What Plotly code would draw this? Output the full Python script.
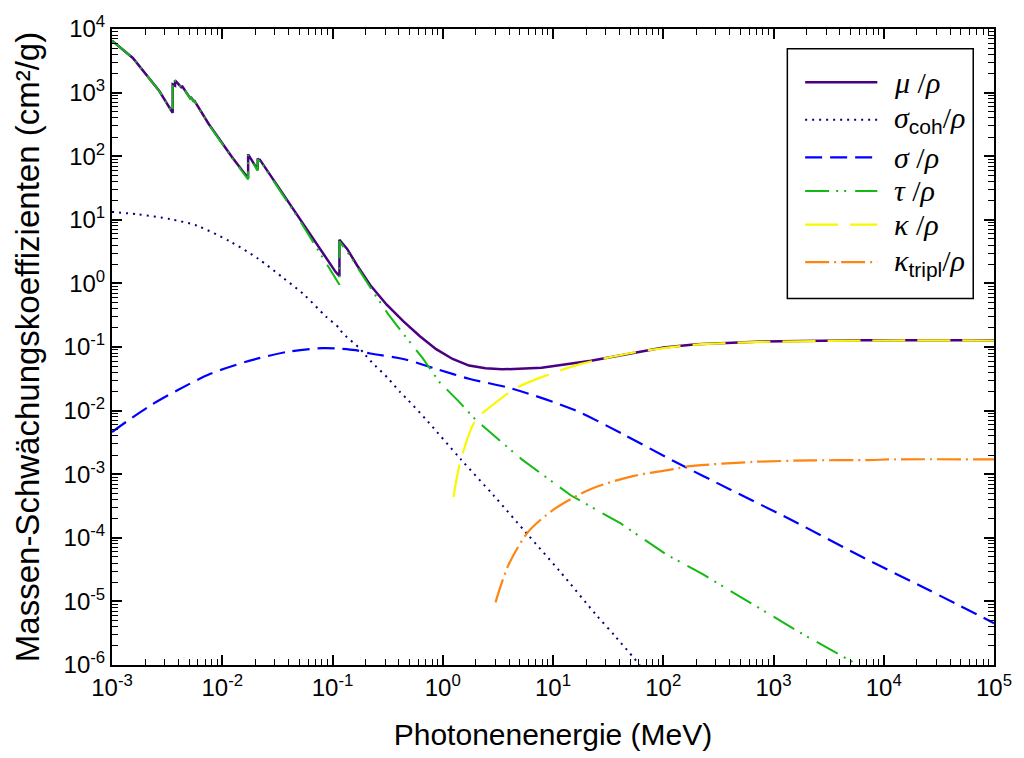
import plotly.graph_objects as go

# Mass attenuation coefficients of uranium (cm²/g) versus photon energy (MeV).
# Absorption edges appear as repeated energies with two values.

# total attenuation mu/rho
energy_mu = [1.0e-3, 1.545e-3, 2.685e-3, 3.552e-3, 3.552e-3, 3.728e-3, 3.728e-3,
             4.303e-3, 4.303e-3, 5.182e-3, 5.182e-3, 5.548e-3, 5.548e-3, 7.54e-3,
             1.22e-2, 1.717e-2, 1.717e-2, 2.095e-2, 2.095e-2, 2.176e-2, 2.176e-2,
             4.86e-2, 0.1066, 0.1156, 0.1156, 0.1358, 0.1668, 0.2196, 0.3102,
             0.4378, 0.6166, 0.871, 1.229, 1.732, 2.443, 3.45, 5.2, 7.88, 22.1, 62.2,
             100.7, 200.0, 794.0, 6260.0, 1.0e5]
mu_rho = [6560, 3500, 1060, 480, 1350, 1290, 1560,
          1190, 1280, 790, 850, 720, 760, 321,
          98, 45, 107, 61, 92, 84, 90,
          11.5, 1.52, 1.3, 4.85, 3.49, 1.93, 0.944, 0.462,
          0.2545, 0.149, 0.0926, 0.0648, 0.051, 0.0463, 0.0445, 0.0452, 0.047, 0.061, 0.0849,
          0.098, 0.1107, 0.1216, 0.1277, 0.128]

# coherent (Rayleigh) scattering
energy_coh = [1.0e-3, 1.71e-3, 3.42e-3, 5.92e-3, 1.18e-2, 2.12e-2, 3.55e-2, 5.55e-2,
              8.67e-2, 0.1144, 0.1225, 0.173, 0.198, 0.2276, 0.315, 0.408, 0.4786,
              0.733, 1.46, 2.90, 5.78, 11.5, 24.5, 37.2, 61.3]
sigma_coh_rho = [13.3, 12.2, 10.2, 8.06, 4.55, 2.44, 1.23, 0.66,
                 0.304, 0.2004, 0.168, 0.098, 0.0755, 0.0574, 0.0330, 0.0197, 0.01497,
                 6.73e-3, 1.71e-3, 4.61e-4, 1.17e-4, 2.99e-5, 6.21e-6, 2.75e-6, 1.0e-6]

# incoherent (Compton) scattering
energy_incoh = [1.0e-3, 1.50e-3, 2.26e-3, 3.92e-3, 7.80e-3, 1.78e-2, 4.07e-2, 8.10e-2,
                0.1104, 0.161, 0.2196, 0.4378, 0.871, 1.732, 4.24, 15.7, 44.0, 124.0,
                399.0, 1580.0, 6250.0, 2.48e4, 1.0e5]
sigma_rho = [4.61e-3, 7.60e-3, 1.22e-2, 2.09e-2, 3.79e-2, 6.10e-2, 8.50e-2, 9.59e-2,
             0.0946, 0.0893, 0.0791, 0.0648, 0.0453, 0.0317, 0.0222, 0.0102, 4.18e-3, 1.61e-3,
             5.82e-4, 1.77e-4, 5.07e-5, 1.55e-5, 4.55e-6]

# photoelectric absorption
energy_photo = [1.0e-3, 1.545e-3, 2.685e-3, 3.552e-3, 3.552e-3, 3.728e-3, 3.728e-3,
                4.303e-3, 4.303e-3, 5.182e-3, 5.182e-3, 5.548e-3, 5.548e-3, 7.54e-3,
                1.22e-2, 1.717e-2, 1.717e-2, 2.095e-2, 2.095e-2, 2.176e-2, 2.176e-2,
                4.86e-2, 0.1066, 0.1156, 0.1156, 0.1453, 0.2356, 0.321, 0.453, 0.652,
                0.932, 1.41, 1.99, 5.21, 14.6, 41.1, 107.7, 229.8, 646.0, 1815.0, 5840.0]
tau_rho = [6545, 3488, 1050, 470, 1342, 1282, 1552,
           1183, 1273, 783, 843, 714, 754, 316,
           95, 43, 104, 59, 89.5, 82, 88,
           10.8, 1.2, 0.95, 4.58, 2.65, 0.72, 0.325, 0.15, 0.068,
           0.0281, 0.01374, 7.15e-3, 1.71e-3, 4.62e-4, 1.68e-4, 5.41e-5, 2.65e-5, 9.06e-6,
           3.10e-6, 1.0e-6]

# pair production in the nuclear field
energy_pair = [1.25, 1.46, 1.99, 2.71, 4.54, 7.88, 18.0, 54.2, 124.0, 200.0, 794.0,
               6260.0, 1.0e5]
kappa_rho = [4.36e-4, 1.71e-3, 7.15e-3, 1.15e-2, 2.22e-2, 3.36e-2, 5.42e-2, 8.20e-2,
             0.1005, 0.1093, 0.120, 0.1262, 0.1265]

# triplet production (electron field)
energy_tripl = [3.01, 3.96, 5.98, 10.4, 22.1, 54.2, 124.0, 163.0, 646.0, 2230.0,
                7200.0, 1.24e4, 1.0e5]
kappa_tripl_rho = [9.65e-6, 3.79e-5, 1.25e-4, 2.87e-4, 5.86e-4, 9.42e-4, 1.20e-3,
                   1.32e-3, 1.56e-3, 1.65e-3, 1.67e-3, 1.71e-3, 1.71e-3]

# axis ticks
x_tick_vals = [1e-3, 1e-2, 1e-1, 1e0, 1e1, 1e2, 1e3, 1e4, 1e5]
x_tick_text = ["10<sup>-3</sup>", "10<sup>-2</sup>", "10<sup>-1</sup>", "10<sup>0</sup>",
               "10<sup>1</sup>", "10<sup>2</sup>", "10<sup>3</sup>", "10<sup>4</sup>",
               "10<sup>5</sup>"]
y_tick_vals = [1e-6, 1e-5, 1e-4, 1e-3, 1e-2, 1e-1, 1e0, 1e1, 1e2, 1e3, 1e4]
y_tick_text = ["10<sup>-6</sup>", "10<sup>-5</sup>", "10<sup>-4</sup>", "10<sup>-3</sup>",
               "10<sup>-2</sup>", "10<sup>-1</sup>", "10<sup>0</sup>", "10<sup>1</sup>",
               "10<sup>2</sup>", "10<sup>3</sup>", "10<sup>4</sup>"]

SANS = "Liberation Sans, Arial, sans-serif"
SERIF = "Liberation Serif, Times New Roman, serif"
SUB = "<sub><span style='font-family:Liberation Sans'>{}</span></sub>"

series = [
    dict(x=energy_mu, y=mu_rho, color="#4B0082", dash="solid", width=2.5, shape="linear",
         label="<i>μ</i> /<i>ρ</i>"),
    dict(x=energy_coh, y=sigma_coh_rho, color="#000080", dash="2px,5px", width=2, shape="spline",
         label="<i>σ</i>" + SUB.format("coh") + "/<i>ρ</i>"),
    dict(x=energy_incoh, y=sigma_rho, color="#0000FF", dash="17px,8px", width=2.2, shape="spline",
         label="<i>σ</i> /<i>ρ</i>"),
    dict(x=energy_photo, y=tau_rho, color="#14BA14", dash="24px,7px,2px,6px,2px,9px", width=2,
         shape="linear", label="<i>τ</i> /<i>ρ</i>"),
    dict(x=energy_pair, y=kappa_rho, color="#F8F800", dash="33px,12px", width=2.2, shape="spline",
         label="<i>κ</i> /<i>ρ</i>"),
    dict(x=energy_tripl, y=kappa_tripl_rho, color="#FF8410", dash="24px,5px,2px,5px", width=2.2,
         shape="spline", label="<i>κ</i>" + SUB.format("tripl") + "/<i>ρ</i>"),
]

fig = go.Figure()
for s in series:
    line = dict(color=s["color"], dash=s["dash"], width=s["width"], shape=s["shape"])
    if s["shape"] == "spline":
        line["smoothing"] = 0.8
    fig.add_trace(go.Scatter(x=s["x"], y=s["y"], mode="lines", line=line,
                             showlegend=False, hoverinfo="x+y"))

W, H = 1024, 758
ML, MR, MT, MB = 112, 20, 24, 90
PW, PH = W - ML - MR, H - MT - MB


def px_x(p):
    return (p - ML) / PW


def px_y(p):
    return (H - MB - p) / PH


# legend box with longer line samples than the built-in legend draws
shapes = [dict(type="rect", xref="paper", yref="paper",
               x0=px_x(795), x1=px_x(983), y0=px_y(297), y1=px_y(44),
               line=dict(color="black", width=1.5), fillcolor="white", layer="above")]
annotations = []
row_y = [78, 116, 154, 188, 222, 260]
for s, ry in zip(series, row_y):
    shapes.append(dict(type="line", xref="paper", yref="paper",
                       x0=px_x(813), x1=px_x(886), y0=px_y(ry), y1=px_y(ry),
                       line=dict(color=s["color"], dash=s["dash"], width=s["width"]),
                       layer="above"))
    annotations.append(dict(xref="paper", yref="paper", x=px_x(901), y=px_y(ry),
                            xanchor="left", yanchor="middle", showarrow=False,
                            text=s["label"], font=dict(family=SERIF, size=30, color="black")))

axis_common = dict(
    type="log", showline=True, linecolor="black", linewidth=2, mirror="ticks",
    ticks="inside", ticklen=10, tickwidth=1.5, tickcolor="black",
    showgrid=False, zeroline=False, tickmode="array",
    tickfont=dict(family=SANS, size=24, color="black"),
    minor=dict(ticks="inside", ticklen=6, tickwidth=1.2, tickcolor="black",
               tickmode="linear", dtick="D1", showgrid=False),
)

fig.update_layout(
    width=W, height=H,
    margin=dict(l=ML, r=MR, t=MT, b=MB, pad=0),
    paper_bgcolor="white", plot_bgcolor="white",
    font=dict(family=SANS, color="black"),
    xaxis=dict(axis_common, range=[-3, 5], tickvals=x_tick_vals, ticktext=x_tick_text,
               title=dict(text="Photonenenergie (MeV)", font=dict(family=SANS, size=30),
                          standoff=24)),
    yaxis=dict(axis_common, range=[-6, 4], tickvals=y_tick_vals, ticktext=y_tick_text,
               title=dict(text="Massen-Schwächungskoeffizienten (cm²/g)",
                          font=dict(family=SANS, size=33), standoff=14)),
    shapes=shapes,
    annotations=annotations,
)

fig.write_html("out.html")
